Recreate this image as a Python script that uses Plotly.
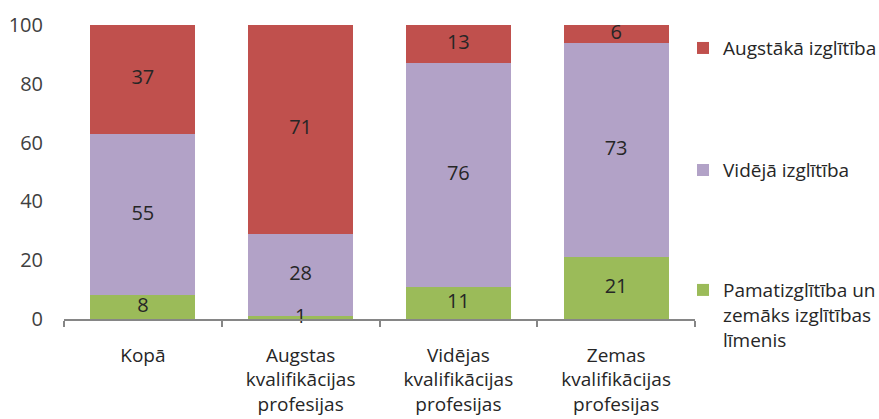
import plotly.graph_objects as go

categories = ["Kopā", "Augstas<br>kvalifikācijas<br>profesijas", "Vidējas<br>kvalifikācijas<br>profesijas", "Zemas<br>kvalifikācijas<br>profesijas"]
pamat = [8, 1, 11, 21]
videja = [55, 28, 76, 73]
augstaka = [37, 71, 13, 6]
yticks = [0, 20, 40, 60, 80, 100]

FONT = "Open Sans"
TXT = "#262626"

series = [
    ("Pamatizglītība un<br>zemāks izglītības<br>līmenis", pamat, "#9BBB59", "legend3"),
    ("Vidējā izglītība", videja, "#B2A2C7", "legend2"),
    ("Augstākā izglītība", augstaka, "#C0504D", "legend"),
]

fig = go.Figure()
base = [0] * len(categories)
for name, vals, color, leg in series:
    fig.add_trace(go.Bar(
        x=categories, y=vals, name=name, legend=leg,
        marker=dict(color=color, line=dict(width=0)),
        width=0.665, hoverinfo="skip",
    ))
    mids = [b + v / 2 for b, v in zip(base, vals)]
    fig.add_trace(go.Scatter(
        x=categories, y=mids, mode="text", text=[str(v) for v in vals],
        textposition="middle center", showlegend=False, hoverinfo="skip",
        textfont=dict(family=FONT, size=20, color=TXT), cliponaxis=False,
    ))
    base = [b + v for b, v in zip(base, vals)]

legcommon = dict(font=dict(family=FONT, size=19, color=TXT), bgcolor="rgba(0,0,0,0)",
                 xanchor="left", valign="top", x=0.981, yanchor="top")
fig.update_layout(
    barmode="stack",
    width=879, height=419,
    margin=dict(l=64, r=184, t=25, b=100, autoexpand=False),
    paper_bgcolor="white", plot_bgcolor="white",
    font=dict(family=FONT, size=19, color="#404040"),
    legend=dict(**legcommon, y=0.986),
    legend2=dict(**legcommon, y=0.571),
    legend3=dict(**legcommon, y=0.163),
    xaxis=dict(showline=True, linecolor="#868686", linewidth=1.5, ticks="outside",
               tickson="boundaries", ticklen=6, tickcolor="#868686", tickwidth=1.5,
               ticklabelstandoff=18, automargin=False,
               tickfont=dict(family=FONT, size=19, color=TXT), showgrid=False),
    yaxis=dict(range=[0, 100], tickvals=yticks, showgrid=False, showline=False,
               zeroline=False, ticklabelstandoff=20, automargin=False,
               tickfont=dict(family=FONT, size=20, color="#404040")),
)

fig.write_html("out.html", config={"displayModeBar": False},
               post_script="document.body.style.margin='0';document.body.style.overflow='hidden';")
